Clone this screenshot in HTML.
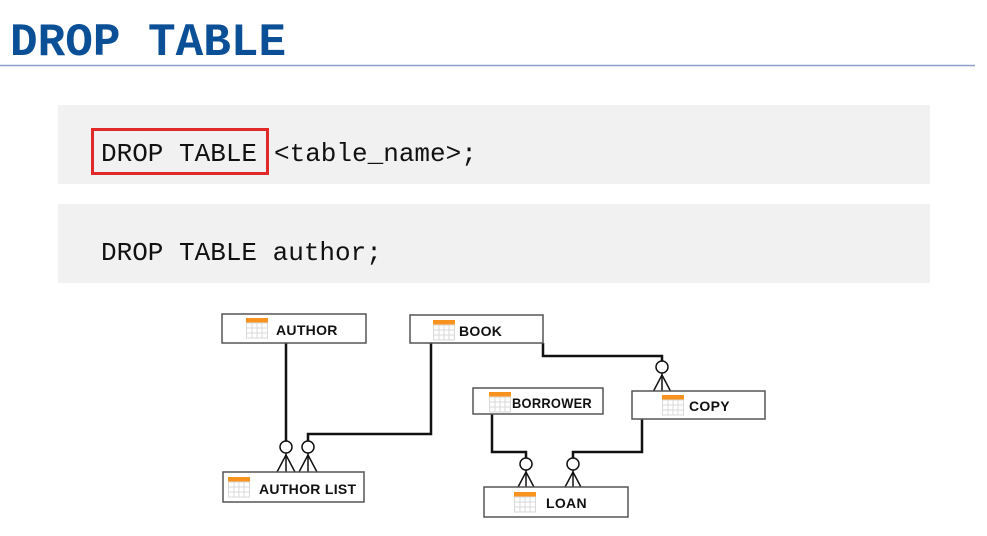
<!DOCTYPE html>
<html><head><meta charset="utf-8"><style>
body{margin:0;background:#fff;width:987px;height:531px;overflow:hidden}
</style></head><body>
<svg width="987" height="531" xmlns="http://www.w3.org/2000/svg">
<defs>
<g id="ic">
<rect x="0" y="0" width="22" height="5" fill="#f7931e"/>
<g stroke="#d8d8d8" stroke-width="1" fill="none">
<rect x="0.5" y="5" width="21" height="15"/>
<line x1="0" y1="10" x2="22" y2="10"/><line x1="0" y1="15" x2="22" y2="15"/>
<line x1="6" y1="5" x2="6" y2="20"/><line x1="11" y1="5" x2="11" y2="20"/><line x1="16" y1="5" x2="16" y2="20"/>
</g></g>
<g id="cf" fill="none" stroke="#111" stroke-width="1.5">
<circle cx="0" cy="0" r="6" fill="#fff"/>
<line x1="0" y1="6" x2="0" y2="25"/><line x1="0" y1="8" x2="-9" y2="25"/><line x1="0" y1="8" x2="9" y2="25"/>
</g>
</defs>
<text x="10" y="55" font-family="Liberation Mono, monospace" font-weight="bold" font-size="46" fill="#0b4f96">DROP TABLE</text>
<line x1="0" y1="65.5" x2="975" y2="65.5" stroke="#8fa0c8" stroke-width="1.5"/>
<rect x="58" y="105" width="872" height="79" fill="#f1f1f1"/>
<rect x="58" y="204" width="872" height="79" fill="#f1f1f1"/>
<rect x="92.5" y="129.5" width="175" height="44" fill="none" stroke="#e02a2a" stroke-width="3"/>
<text x="101" y="161" font-family="Liberation Mono, monospace" font-size="26" fill="#111">DROP TABLE <tspan x="274">&lt;table_name&gt;;</tspan></text>
<text x="101" y="260" font-family="Liberation Mono, monospace" font-size="26" fill="#111">DROP TABLE author;</text>

<g fill="none" stroke="#111" stroke-width="2.5">
<polyline points="286,343 286,441"/>
<polyline points="308,441 308,434 431,434 431,343"/>
<polyline points="543,343 543,356 662,356 662,361"/>
<polyline points="492,414 492,452 526,452 526,458"/>
<polyline points="642,419 642,452 573,452 573,458"/>
</g>
<use href="#cf" x="286" y="447"/>
<use href="#cf" x="308" y="447"/>
<use href="#cf" x="662" y="367"/>
<use href="#cf" x="526" y="464"/>
<use href="#cf" x="573" y="464"/>

<g fill="#fff" stroke="#555" stroke-width="1.5">
<rect x="222" y="314" width="144" height="29"/>
<rect x="410" y="315" width="133" height="28"/>
<rect x="473" y="388" width="130" height="26"/>
<rect x="632" y="391" width="133" height="28"/>
<rect x="223" y="472" width="141" height="30"/>
<rect x="484" y="487" width="144" height="30"/>
</g>
<use href="#ic" x="246" y="318"/>
<use href="#ic" x="433" y="320"/>
<use href="#ic" x="489" y="392"/>
<use href="#ic" x="662" y="395"/>
<use href="#ic" x="228" y="477"/>
<use href="#ic" x="514" y="492"/>
<g font-family="Liberation Sans, Arial, sans-serif" font-weight="bold" font-size="14" fill="#111" letter-spacing="0.3">
<text x="276" y="335">AUTHOR</text>
<text x="459" y="336">BOOK</text>
<text x="512" y="408" textLength="80" lengthAdjust="spacingAndGlyphs">BORROWER</text>
<text x="689" y="411">COPY</text>
<text x="259" y="494">AUTHOR LIST</text>
<text x="546" y="508">LOAN</text>
</g>
</svg>
</body></html>
